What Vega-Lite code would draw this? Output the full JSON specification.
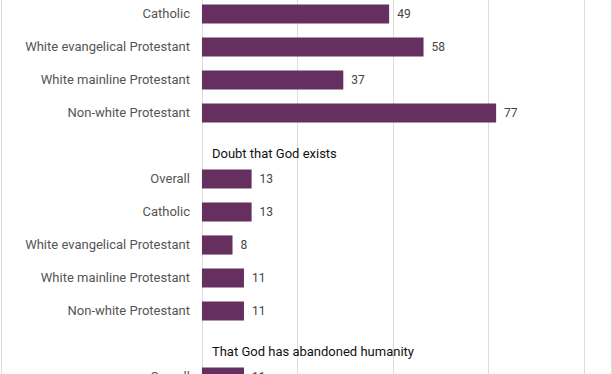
{
  "$schema": "https://vega.github.io/schema/vega-lite/v6.json",
  "autosize": "none",
  "width": 610,
  "height": 396,
  "padding": {"top": -2.5, "left": 1, "right": 1, "bottom": 0},
  "background": "white",
  "config": {
    "view": {"stroke": "#dcdcdc", "strokeWidth": 1},
    "font": "Roboto"
  },
  "data": {
    "values": [
      {"order": 0, "kind": "bar", "label": "Catholic", "value": 49},
      {"order": 1, "kind": "bar", "label": "White evangelical Protestant", "value": 58},
      {"order": 2, "kind": "bar", "label": "White mainline Protestant", "value": 37},
      {"order": 3, "kind": "bar", "label": "Non-white Protestant", "value": 77},
      {"order": 4, "kind": "header", "label": "Doubt that God exists", "value": null},
      {"order": 5, "kind": "bar", "label": "Overall", "value": 13},
      {"order": 6, "kind": "bar", "label": "Catholic", "value": 13},
      {"order": 7, "kind": "bar", "label": "White evangelical Protestant", "value": 8},
      {"order": 8, "kind": "bar", "label": "White mainline Protestant", "value": 11},
      {"order": 9, "kind": "bar", "label": "Non-white Protestant", "value": 11},
      {"order": 10, "kind": "header", "label": "That God has abandoned humanity", "value": null},
      {"order": 11, "kind": "bar", "label": "Overall", "value": 11}
    ]
  },
  "encoding": {
    "y": {"field": "order", "type": "ordinal", "axis": null, "scale": {"paddingInner": 0.42, "paddingOuter": 0.21}}
  },
  "layer": [
    {
      "transform": [{"filter": "datum.kind == 'bar'"}],
      "mark": {"type": "bar", "color": "#652f60"},
      "encoding": {
        "x": {
          "field": "value",
          "type": "quantitative",
          "scale": {"domain": [-52.6, 107.07], "nice": false, "zero": false},
          "axis": {"values": [0, 25, 50, 75, 100], "labels": false, "ticks": false, "domain": false, "title": null, "gridColor": "#dcdcdc", "gridOpacity": 1}
        }
      }
    },
    {
      "transform": [{"filter": "datum.kind == 'bar'"}],
      "mark": {"type": "text", "align": "left", "baseline": "middle", "dx": 8, "fontSize": 12, "color": "#444444"},
      "encoding": {
        "x": {"field": "value", "type": "quantitative"},
        "text": {"field": "value", "type": "quantitative"}
      }
    },
    {
      "transform": [{"filter": "datum.kind == 'bar'"}],
      "mark": {"type": "text", "align": "right", "baseline": "middle", "dx": -12, "fontSize": 13, "color": "#555555"},
      "encoding": {
        "x": {"datum": 0, "type": "quantitative"},
        "text": {"field": "label"}
      }
    },
    {
      "transform": [{"filter": "datum.kind == 'header'"}],
      "mark": {"type": "text", "align": "left", "baseline": "middle", "dx": 10, "dy": 8, "fontSize": 13, "color": "#111111"},
      "encoding": {
        "x": {"datum": 0, "type": "quantitative"},
        "text": {"field": "label"}
      }
    }
  ]
}
